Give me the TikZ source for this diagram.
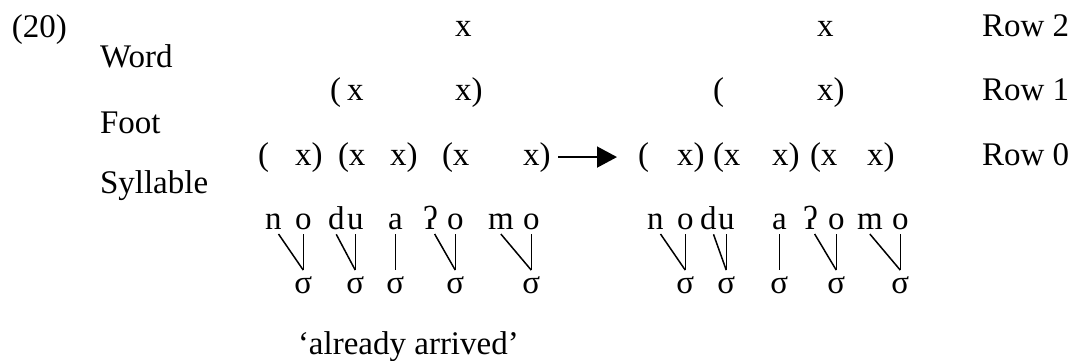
\documentclass[tikz,border=0pt]{standalone}
\usepackage{fontspec}
\setmainfont{Liberation Serif}
\usetikzlibrary{arrows.meta}
\begin{document}
\begin{tikzpicture}[x=1pt,y=-1pt,
  txt/.style={inner sep=0pt, outer sep=0pt, anchor=base west, font=\fontsize{33}{39}\selectfont},
  syl/.style={txt, anchor=base},
  link/.style={line width=1.5pt},
  rewrite/.style={line width=1.7pt, -{Triangle[length=20pt,width=21pt]}, shorten <=8pt, shorten >=21pt}]
\useasboundingbox (0,0) rectangle (1077,361);

% example number and level labels
\node[txt] (ex) at (12,38) {(20)};
\node[txt] (lw) at (100,68) {Word};
\node[txt] (lf) at (100,133) {Foot};
\node[txt] (ls) at (100,193) {Syllable};

% row 2
\node[txt] (r2a) at (455,37) {x};
\node[txt] (r2b) at (817,37) {x};
\node[txt] (row2) at (982,37) {Row 2};

% row 1
\node[txt] (r1a) at (330,100) {(};
\node[txt] (r1b) at (347,100) {x};
\node[txt] (r1c) at (455,100) {x)};
\node[txt] (r1d) at (713,100) {(};
\node[txt] (r1e) at (817,100) {x)};
\node[txt] (row1) at (982,100) {Row 1};

% row 0, input
\node[txt] (r0a) at (258,165) {(};
\node[txt] (r0b) at (295,165) {x)};
\node[txt] (r0c) at (338,165) {(x};
\node[txt] (r0d) at (390,165) {x)};
\node[txt] (r0e) at (442,165) {(x};
\node[txt] (r0f) at (523,165) {x)};
% row 0, output
\node[txt] (r0g) at (638,165) {(};
\node[txt] (r0h) at (677,165) {x)};
\node[txt] (r0i) at (713,165) {(x};
\node[txt] (r0j) at (772,165) {x)};
\node[txt] (r0k) at (810,165) {(x};
\node[txt] (r0l) at (867,165) {x)};
\node[txt] (row0) at (982,165) {Row 0};

\draw[rewrite] (r0f.east) -- (r0g.west);

% segments, input
\node[txt] (an) at (265,229) {n};
\node[txt] (ao) at (295,229) {o};
\node[txt] (ad) at (328,229) {d};
\node[txt] (au) at (347,229) {u};
\node[txt] (aa) at (388,229) {a};
\node[txt] (aq) at (423,229) {ʔ};
\node[txt] (ap) at (447,229) {o};
\node[txt] (am) at (488,229) {m};
\node[txt] (ar) at (523,229) {o};
% segments, output
\node[txt] (bn) at (647,229) {n};
\node[txt] (bo) at (677,229) {o};
\node[txt] (bd) at (700,229) {d};
\node[txt] (bu) at (718,229) {u};
\node[txt] (ba) at (772,229) {a};
\node[txt] (bq) at (803,229) {ʔ};
\node[txt] (bp) at (828,229) {o};
\node[txt] (bm) at (857,229) {m};
\node[txt] (br) at (892,229) {o};

% syllable nodes under each nucleus
\foreach \v/\s in {ao/as1, au/as2, aa/as3, ap/as4, ar/as5,
                   bo/bs1, bu/bs2, ba/bs3, bp/bs4, br/bs5}
  \node[syl] (\s) at (\v.base |- 0,293) {σ};

% association lines: nucleus straight down, onset slanting in
\foreach \v/\s in {ao/as1, au/as2, aa/as3, ap/as4, ar/as5,
                   bo/bs1, bu/bs2, ba/bs3, bp/bs4, br/bs5}
  \draw[link] ([yshift=-5pt]\v.south) -- ([yshift=6pt]\s.north);
\foreach \c/\s in {an/as1, aq/as4, bn/bs1, bd/bs2, bq/bs4}
  \draw[link] ([xshift=-3pt,yshift=-5pt]\c.south east) -- ([yshift=6pt]\s.north);
\foreach \c/\s in {ad/as2, am/as5, bm/bs5}
  \draw[link] ([yshift=-5pt]\c.south) -- ([yshift=6pt]\s.north);

% gloss
\node[txt] (gl) at (298,354) {‘already arrived’};
\end{tikzpicture}
\end{document}
